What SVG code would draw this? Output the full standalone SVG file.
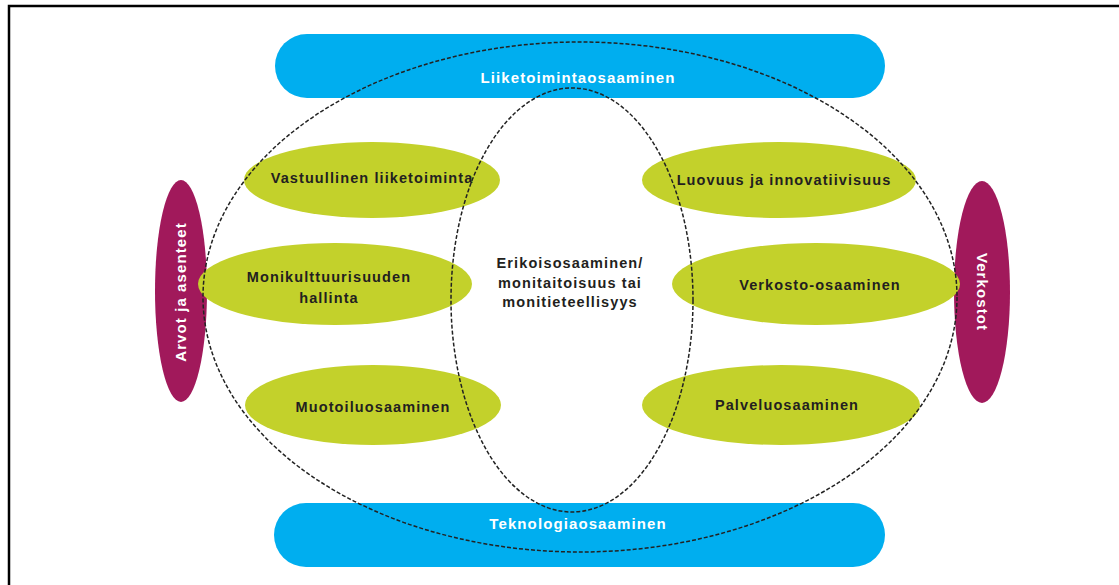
<svg xmlns="http://www.w3.org/2000/svg" width="1119" height="585" viewBox="0 0 1119 585">
<style>
.bar{fill:#00AEEF}
.green{fill:#C3D12B}
.mag{fill:#A1195B}
.dash{fill:none;stroke:#222;stroke-width:1.5;stroke-dasharray:4 2}
.t{font-family:"Liberation Sans",Arial,sans-serif;font-weight:bold;font-size:14.5px;letter-spacing:1.1px;fill:#231F20;text-anchor:middle}
.w{fill:#ffffff}
</style>
<rect width="1119" height="585" fill="#ffffff"/>
<path d="M9 585 V6 H1119" fill="none" stroke="#000" stroke-width="2.5"/>
<g id="liiketoimintaosaaminen">
<rect class="bar" x="275" y="34" width="610" height="64" rx="32"/>
<text class="t w" x="578" y="83" style="font-size:15px">Liiketoimintaosaaminen</text>
</g>
<g id="teknologiaosaaminen">
<rect class="bar" x="274" y="503" width="611" height="64" rx="32"/>
<text class="t w" x="578" y="529" style="font-size:15px">Teknologiaosaaminen</text>
</g>
<g id="arvot">
<ellipse class="mag" cx="181" cy="291" rx="26" ry="111"/>
<text class="t w" transform="translate(186 292) rotate(-90)" style="font-size:15px">Arvot ja asenteet</text>
</g>
<g id="verkostot">
<ellipse class="mag" cx="982" cy="292" rx="28" ry="111"/>
<text class="t w" transform="translate(977 292) rotate(90)" style="font-size:15px">Verkostot</text>
</g>
<g id="vastuullinen">
<ellipse class="green" cx="372" cy="180" rx="128" ry="38"/>
<text class="t" x="372" y="183">Vastuullinen liiketoiminta</text>
</g>
<g id="monikulttuurisuus">
<ellipse class="green" cx="335" cy="284" rx="137" ry="41"/>
<text class="t" x="329" y="282">Monikulttuurisuuden</text>
<text class="t" x="329" y="303">hallinta</text>
</g>
<g id="muotoilu">
<ellipse class="green" cx="373" cy="405" rx="128" ry="40"/>
<text class="t" x="373" y="412">Muotoiluosaaminen</text>
</g>
<g id="luovuus">
<ellipse class="green" cx="779" cy="180" rx="137" ry="38"/>
<text class="t" x="784" y="185">Luovuus ja innovatiivisuus</text>
</g>
<g id="verkosto-osaaminen">
<ellipse class="green" cx="816" cy="284" rx="144" ry="41"/>
<text class="t" x="820" y="290">Verkosto-osaaminen</text>
</g>
<g id="palvelu">
<ellipse class="green" cx="781" cy="405" rx="139" ry="40"/>
<text class="t" x="787" y="410">Palveluosaaminen</text>
</g>
<g id="connectors">
<ellipse class="dash" cx="580" cy="297" rx="377" ry="255"/>
<ellipse class="dash" cx="572" cy="300" rx="121" ry="212"/>
</g>
<g id="erikoisosaaminen">
<text class="t" x="570" y="268">Erikoisosaaminen/</text>
<text class="t" x="570" y="288">monitaitoisuus tai</text>
<text class="t" x="570" y="307">monitieteellisyys</text>
</g>
</svg>
